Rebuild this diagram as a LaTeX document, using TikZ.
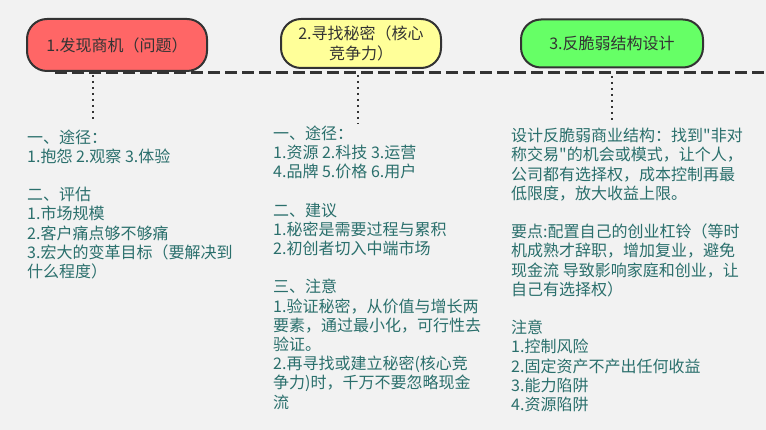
\documentclass[tikz,border=0pt]{standalone}
\usepackage{fontspec}
\newfontfamily\cjk{Noto Sans CJK SC}
\definecolor{bgc}{HTML}{F2F2F2}
\definecolor{edge}{HTML}{333333}
\definecolor{redf}{HTML}{FF6666}
\definecolor{yelf}{HTML}{FFFF99}
\definecolor{grnf}{HTML}{66FF66}
\definecolor{teal}{HTML}{2A6F6C}
\tikzset{
  phase/.style={draw=edge, line width=2pt, rounded corners=20pt, inner sep=0pt,
    text=edge, font=\cjk\fontsize{16}{19.2}\selectfont, align=center},
  txt/.style={text=teal, font=\cjk\fontsize{16}{19.2}\selectfont, align=left,
    inner sep=0pt, anchor=base west},
  timeline/.style={draw=edge, line width=3pt, dash pattern=on 12pt off 5pt},
  dotline/.style={draw=edge, line width=2.5pt, dash pattern=on 2.5pt off 3.5pt}
}
\begin{document}
\begin{tikzpicture}[x=1pt,y=-1pt]
\fill[bgc] (0,0) rectangle (766,430);
\useasboundingbox (0,0) rectangle (766,430);
% phase boxes
\node[phase, fill=redf, minimum width=180pt, minimum height=52pt] (p1) at (117,45) {1.发现商机（问题）};
\node[phase, fill=yelf, minimum width=160pt, minimum height=49pt] (p2) at (361,43.5) {2.寻找秘密（核心\\竞争力）};
\node[phase, fill=grnf, minimum width=182pt, minimum height=48pt] (p3) at (612,43.5) {3.反脆弱结构设计};
% timeline
\coordinate (tl0) at (55,73);
\coordinate (tl1) at (766,73);
\draw[timeline] (tl0) -- (tl1);
% text columns (base anchor = baseline of last line)
\node[txt] (c1) at (27,277.5) {一、途径：\\1.抱怨 2.观察 3.体验\\[19.2pt]二、评估\\1.市场规模\\2.客户痛点够不够痛\\3.宏大的变革目标（要解决到\\什么程度）};
\node[txt] (c2) at (273,408) {一、途径：\\1.资源 2.科技 3.运营\\4.品牌 5.价格 6.用户\\[19.2pt]二、建议\\1.秘密是需要过程与累积\\2.初创者切入中端市场\\[19.2pt]三、注意\\1.验证秘密，从价值与增长两\\要素，通过最小化，可行性去\\验证。\\2.再寻找或建立秘密(核心竞\\争力)时，千万不要忽略现金\\流};
\node[txt] (c3) at (511,410.5) {设计反脆弱商业结构：找到"非对\\称交易"的机会或模式，让个人，\\公司都有选择权，成本控制再最\\低限度，放大收益上限。\\[19.2pt]要点:配置自己的创业杠铃（等时\\机成熟才辞职，增加复业，避免\\现金流 导致影响家庭和创业，让\\自己有选择权）\\[19.2pt]注意\\1.控制风险\\2.固定资产不产出任何收益\\3.能力陷阱\\4.资源陷阱};
% dotted connectors
\coordinate (d1a) at (93,75);  \coordinate (d1b) at (93,120);
\coordinate (d2a) at (358,75); \coordinate (d2b) at (358,124);
\coordinate (d3a) at (612,76); \coordinate (d3b) at (612,123);
\draw[dotline] (d1a) -- (d1b);
\draw[dotline] (d2a) -- (d2b);
\draw[dotline] (d3a) -- (d3b);
\end{tikzpicture}
\end{document}
